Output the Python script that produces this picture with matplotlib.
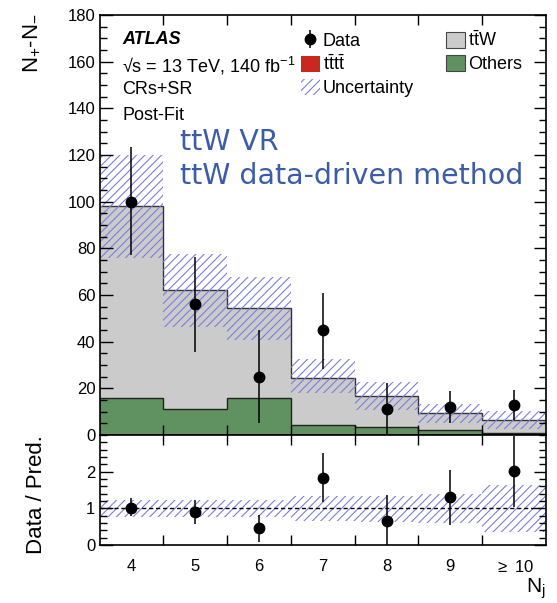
import numpy as np
import matplotlib
matplotlib.use("Agg")
import matplotlib.pyplot as plt
from matplotlib.patches import Patch
from matplotlib.ticker import MultipleLocator, FixedLocator

plt.rcParams['font.family'] = ['Liberation Sans', 'DejaVu Sans']
plt.rcParams['mathtext.fontset'] = 'custom'
plt.rcParams['mathtext.rm'] = 'Liberation Sans'
plt.rcParams['mathtext.it'] = 'Liberation Sans:italic'
plt.rcParams['hatch.linewidth'] = 0.8

# jet multiplicity bins
labels = ['4', '5', '6', '7', '8', '9', r'$\geq$ 10']
edges = np.arange(3.5, 11.0, 1.0)
centres = np.arange(4, 11)

# post-fit stack (N+ - N-)
others = np.array([16.0, 11.2, 16.0, 4.1, 3.6, 2.2, 1.0])
tttt = np.array([0.0, 0.0, 0.0, 0.0, 0.0, 0.0, 0.0])
ttw = np.array([82.0, 50.8, 38.3, 20.4, 13.0, 7.1, 5.5])
unc_lo = np.array([76.0, 46.5, 40.8, 17.8, 10.7, 5.3, 2.4])
unc_hi = np.array([120.0, 77.5, 67.8, 32.7, 22.6, 13.4, 10.2])

data = np.array([100.0, 56.0, 25.0, 45.0, 11.0, 12.0, 13.0])
data_lo = np.array([77.0, 35.5, 5.0, 28.5, 0.0, 5.3, 6.4])
data_hi = np.array([123.5, 76.5, 44.8, 61.0, 22.3, 18.8, 19.2])

# ratio panel
ratio = np.array([1.02, 0.91, 0.46, 1.84, 0.65, 1.31, 2.02])
ratio_lo = np.array([0.79, 0.56, 0.09, 1.18, 0.0, 0.55, 1.05])
ratio_hi = np.array([1.27, 1.23, 0.82, 2.5, 1.37, 2.05, 2.97])
rband_lo = np.array([0.77, 0.76, 0.76, 0.66, 0.63, 0.60, 0.35])
rband_hi = np.array([1.22, 1.24, 1.24, 1.35, 1.33, 1.40, 1.64])

c_ttw = '#cbcbcb'
c_oth = '#5f9260'
c_tttt = '#c8281f'
c_hatch = '#7c7ce0'
c_blue = '#3b5ca8'

W, H = 557, 603
fig = plt.figure(figsize=(W / 100, H / 100), dpi=100)
x0, x1 = 99.5 / W, 546 / W
ax = fig.add_axes([x0, 1 - 435 / H, x1 - x0, (435 - 15) / H])
rx = fig.add_axes([x0, 1 - 545 / H, x1 - x0, (545 - 435) / H])

# stack
s1 = others
s2 = s1 + tttt
s3 = s2 + ttw
ax.stairs(s1, edges, baseline=0, fill=True, color=c_oth)
ax.stairs(s2, edges, baseline=s1, fill=True, color=c_tttt)
ax.stairs(s3, edges, baseline=s2, fill=True, color=c_ttw)
ax.stairs(s1, edges, baseline=None, color='#222222', lw=1.0)
ax.stairs(s3, edges, baseline=None, color='#333333', lw=1.0)
ax.stairs(unc_hi, edges, baseline=unc_lo, fill=True, facecolor='none',
          edgecolor=c_hatch, hatch='////', lw=0)
err = ax.errorbar(centres, data, yerr=[data - data_lo, data_hi - data],
                  fmt='o', color='black', ms=7.5, elinewidth=1.1, capsize=0,
                  label='Data')

ax.set_xlim(3.5, 10.5)
ax.set_ylim(0, 180)
ax.yaxis.set_major_locator(MultipleLocator(20))
ax.yaxis.set_minor_locator(MultipleLocator(5))

# ratio
rx.stairs(rband_hi, edges, baseline=rband_lo, fill=True, facecolor='none',
          edgecolor=c_hatch, hatch='////', lw=0)
rx.axhline(1, color='black', ls=(0, (3, 2)), lw=1.0)
rx.errorbar(centres, ratio, yerr=[ratio - ratio_lo, ratio_hi - ratio],
            fmt='o', color='black', ms=7.5, elinewidth=1.1, capsize=0)
rx.set_xlim(3.5, 10.5)
rx.set_ylim(0, 3)
rx.set_yticks([0, 1, 2])
rx.yaxis.set_minor_locator(MultipleLocator(0.2))

for a in (ax, rx):
    a.xaxis.set_major_locator(FixedLocator(edges[1:-1]))
    a.xaxis.set_major_formatter(plt.NullFormatter())
    a.tick_params(axis='both', which='both', direction='in',
                  top=True, right=True, labelsize=12, pad=3)
    a.tick_params(axis='y', which='major', length=9, width=1)
    a.tick_params(axis='y', which='minor', length=5, width=1)
    a.tick_params(axis='x', which='major', length=7, width=1)
    for sp in a.spines.values():
        sp.set_linewidth(1.2)
ax.xaxis.set_minor_locator(FixedLocator(centres))
ax.tick_params(axis='x', which='minor', length=0, labelbottom=False)
rx.xaxis.set_minor_locator(FixedLocator(centres))
rx.xaxis.set_minor_formatter(plt.FixedFormatter(labels))
rx.tick_params(axis='x', which='minor', length=0, pad=10, labelsize=12)

# axis titles
fig.text(32 / W, 1 - 13 / H, r'N$_{+}$-N$_{-}$', rotation=90, ha='center',
         va='top', fontsize=16)
fig.text(37 / W, 1 - 495 / H, 'Data / Pred.', rotation=90, ha='center',
         va='center', fontsize=16)
fig.text(546 / W, 1 - 593 / H, r'N$_{\mathrm{j}}$', ha='right',
         va='baseline', fontsize=15)

# labels
tx = 122 / W
fig.text(tx, 1 - 40 / H, 'ATLAS', fontsize=13, fontweight='bold',
         fontstyle='italic', va='center')
fig.text(tx, 1 - 66 / H, '\u221as = 13 TeV, 140 fb$^{-1}$',
         fontsize=13, va='center')
fig.text(tx, 1 - 90 / H, 'CRs+SR', fontsize=13, va='center')
fig.text(tx, 1 - 115 / H, 'Post-Fit', fontsize=13, va='center')

handles = [err,
           Patch(facecolor=c_tttt, edgecolor='none'),
           Patch(facecolor='none', edgecolor=c_hatch, hatch='////', lw=0),
           Patch(facecolor=c_ttw, edgecolor='#444444', lw=0.8),
           Patch(facecolor=c_oth, edgecolor='#444444', lw=0.8)]
names = ['Data', r'$\mathrm{t\bar{t}t\bar{t}}$', 'Uncertainty',
         r'$\mathrm{t\bar{t}W}$', 'Others']
fig.legend(handles, names, loc='upper left', ncol=2,
           bbox_to_anchor=(301 / W, 1 - 31 / H), frameon=False,
           fontsize=13, borderpad=0, borderaxespad=0, handlelength=1.05,
           handleheight=0.95, handletextpad=0.15, columnspacing=1.8,
           labelspacing=0.25)

# overlay note
fig.text(180 / W, 1 - 150 / H, 'ttW VR', color=c_blue, fontsize=20.5,
         family='DejaVu Sans', va='baseline')
fig.text(180 / W, 1 - 184 / H, 'ttW data-driven method', color=c_blue,
         fontsize=20.5, family='DejaVu Sans', va='baseline')

fig.savefig('out.png', dpi=100)
